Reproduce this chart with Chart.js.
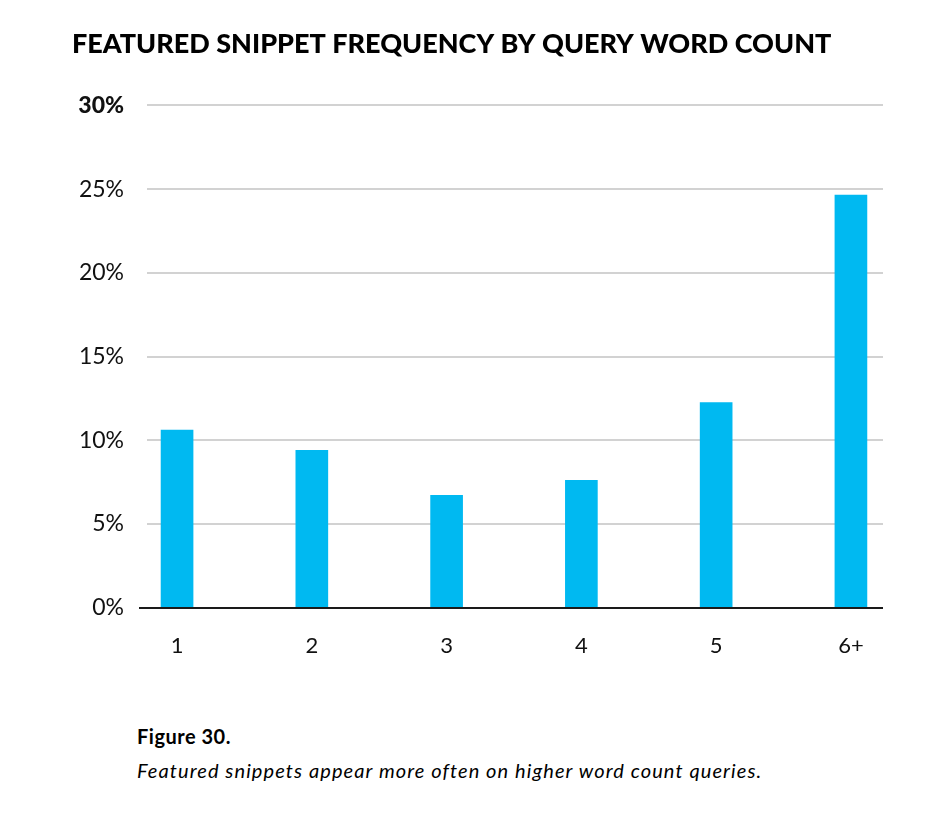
<!DOCTYPE html>
<html>
<head>
<meta charset="utf-8">
<script src="https://cdn.jsdelivr.net/npm/chart.js@4.4.1/dist/chart.umd.min.js"></script>
<style>
  body { margin: 0; background: #fff; width: 934px; height: 828px; overflow: hidden; position: relative; font-family: Lato, sans-serif; }
  #wrap { position: absolute; left: 0; top: 0; width: 934px; height: 700px; }
  .cap { position: absolute; left: 137px; color: #000; white-space: nowrap; }
</style>
</head>
<body>
<div id="wrap"><canvas id="chart" width="934" height="700"></canvas></div>
<div class="cap" style="top:724px;font-weight:700;font-size:20px;letter-spacing:0.5px">Figure 30.</div>
<div class="cap" style="top:758px;font-style:italic;font-weight:400;font-size:20px;letter-spacing:1.1px">Featured snippets appear more often on higher word count queries.</div>
<script>
// query word count buckets
const categories = ["1", "2", "3", "4", "5", "6+"];
// share of queries with a featured snippet, %
const snippetShare = [10.6, 9.4, 6.7, 7.6, 12.25, 24.65];
const yTicks = [0, 5, 10, 15, 20, 25, 30];

const points = categories.map((c, i) => ({ x: i + 1, y: snippetShare[i] }));
const ctx = document.getElementById("chart").getContext("2d");

new Chart(ctx, {
  type: "bar",
  data: {
    datasets: [
      {
        data: points,
        backgroundColor: "#00b9f1",
        barThickness: 32,
      },
    ],
  },
  options: {
    responsive: false,
    animation: false,
    layout: { padding: { left: 72, right: 51, top: 28, bottom: 16 } },
    plugins: {
      legend: { display: false },
      tooltip: { enabled: false },
      title: {
        display: true,
        text: "FEATURED SNIPPET FREQUENCY BY QUERY WORD COUNT",
        align: "start",
        color: "#000",
        font: { family: "Lato", weight: "900", size: 27 },
        padding: { top: 0, bottom: 45 },
      },
    },
    scales: {
      x: {
        type: "linear",
        offset: false,
        min: 0.777,
        max: 6.238,
        grid: { display: false, drawTicks: false },
        border: { display: false },
        afterBuildTicks: (axis) => {
          axis.ticks = categories.map((c, i) => ({ value: i + 1 }));
        },
        ticks: {
          callback: (v) => categories[v - 1],
          color: "#111",
          font: { family: "Lato", weight: "400", size: 22 },
          padding: 25,
          maxRotation: 0,
          autoSkip: false,
        },
      },
      y: {
        min: 0,
        max: 30,
        afterBuildTicks: (axis) => {
          axis.ticks = yTicks.map((v) => ({ value: v }));
        },
        afterFit: (axis) => {
          axis.width = 75;
        },
        border: { display: false },
        grid: {
          color: (c) => (c.tick.value === 0 ? "#1a1a1a" : "#d2d2d2"),
          lineWidth: 2,
          tickLength: 8,
          tickColor: (c) => (c.tick.value === 0 ? "#1a1a1a" : "rgba(0,0,0,0)"),
        },
        ticks: {
          callback: (v) => v + "%",
          padding: 15,
          color: "#111",
          font: (c) => ({
            family: "Lato",
            size: 23,
            weight: c.tick && c.tick.value === 30 ? "900" : "400",
          }),
        },
      },
    },
  },
});
</script>
</body>
</html>
